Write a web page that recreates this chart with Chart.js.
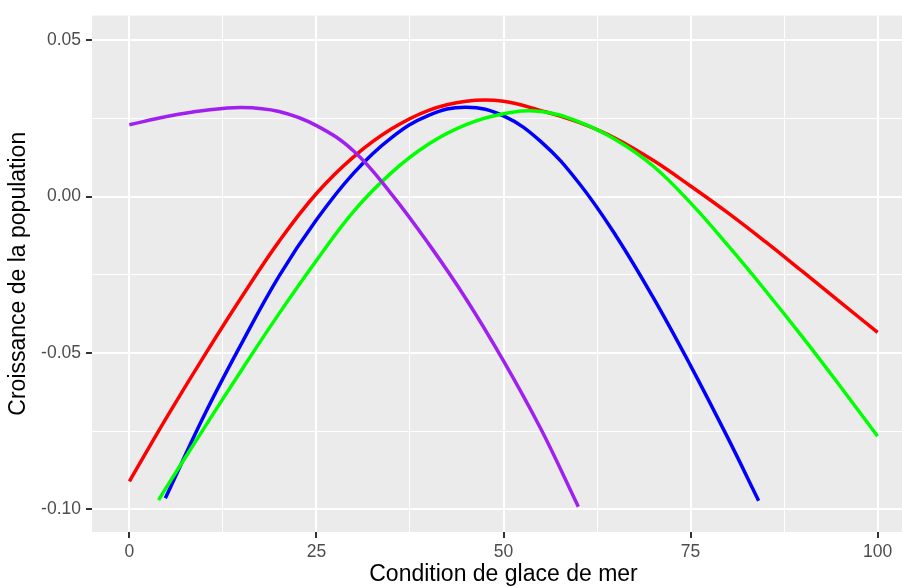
<!DOCTYPE html>
<html>
<head>
<meta charset="utf-8">
<script src="https://cdn.jsdelivr.net/npm/chart.js@4.4.1/dist/chart.umd.min.js"></script>
<style>
  html,body{margin:0;padding:0;background:#fff;overflow:hidden}
  #wrap{width:917px;height:586px}
</style>
</head>
<body>
<div id="wrap"><canvas id="chart" width="917" height="586"></canvas></div>
<script>
/* ---- data ---- */
const purpleX = [0, 5, 10, 15, 20, 25, 30, 35, 40, 45, 50, 55, 60];
const purpleY = [0.0230, 0.0256, 0.0275, 0.0285, 0.0272, 0.0227, 0.0145, 0.0009, -0.0151, -0.0327, -0.0525, -0.0743, -0.0991];

const greenX = [3.9, 5, 10, 15, 20, 25, 30, 35, 40, 45, 50, 55, 60, 65, 70, 75, 80, 85, 90, 95, 100];
const greenY = [-0.0970, -0.0927, -0.0739, -0.0554, -0.0374, -0.0204, -0.0046, 0.0076, 0.0168, 0.0230, 0.0265, 0.0272, 0.0240, 0.0182, 0.0098, -0.0020, -0.0156, -0.0300, -0.0450, -0.0606, -0.0766];

const blueX = [4.8, 10, 15, 20, 25, 30, 35, 40, 45, 50, 55, 60, 65, 70, 75, 80, 84.1];
const blueY = [-0.0964, -0.0699, -0.0469, -0.0254, -0.0074, 0.0076, 0.0188, 0.0260, 0.0286, 0.0258, 0.0176, 0.0046, -0.0124, -0.0322, -0.0540, -0.0772, -0.0972];

const redX = [0, 5, 10, 15, 20, 25, 30, 35, 40, 45, 50, 55, 60, 65, 70, 75, 80, 85, 90, 95, 100];
const redY = [-0.0910, -0.0705, -0.0509, -0.0321, -0.0143, 0.0010, 0.0128, 0.0216, 0.0276, 0.0305, 0.0305, 0.0275, 0.0238, 0.0186, 0.0116, 0.0034, -0.0052, -0.0144, -0.0240, -0.0337, -0.0434];

/* ---- axes ---- */
const xGrid = [0, 12.5, 25, 37.5, 50, 62.5, 75, 87.5, 100];
const xTickLabels = ['0', '25', '50', '75', '100'];
const yGrid = [-0.1, -0.075, -0.05, -0.025, 0, 0.025, 0.05];
const yTickLabels = ['-0.10', '-0.05', '0.00', '0.05'];

const xTitle = 'Condition de glace de mer';
const yTitle = 'Croissance de la population';

const pts = (xs, ys) => xs.map((x, i) => ({x, y: ys[i]}));
const line = (data, color) => ({data, borderColor: color, borderWidth: 3.5, pointRadius: 0, tension: 0.4, fill: false});

/* grey ggplot panel */
const panelBg = {
  id: 'panelBg',
  beforeDraw(chart){
    const {ctx, chartArea: a} = chart;
    ctx.save();
    ctx.fillStyle = '#EBEBEB';
    ctx.fillRect(a.left, a.top, a.right - a.left, a.bottom - a.top);
    ctx.restore();
  }
};

const major = c => c.index % 2 === 0;
const grid = {
  color: '#FFFFFF',
  lineWidth: c => major(c) ? 2 : 1,
  tickColor: c => major(c) ? '#333333' : 'rgba(0,0,0,0)',
  tickWidth: 2,
  tickLength: 6
};
const tickFont = {family: 'Liberation Sans', size: 17.5};
const titleFont = {family: 'Liberation Sans', size: 23, lineHeight: 1};

new Chart(document.getElementById('chart'), {
  type: 'line',
  data: {
    datasets: [
      line(pts(purpleX, purpleY), '#A020F0'),
      line(pts(greenX, greenY), '#00FF00'),
      line(pts(blueX, blueY), '#0000FF'),
      line(pts(redX, redY), '#FF0000')
    ]
  },
  options: {
    responsive: false,
    animation: false,
    layout: {padding: {top: 13, right: 2, bottom: 0, left: 0}},
    plugins: {legend: {display: false}, tooltip: {enabled: false}},
    scales: {
      x: {
        type: 'linear', min: -5, max: 105,
        afterBuildTicks: s => { s.ticks = xGrid.map(v => ({value: v})); },
        afterFit: s => { s.height = 54; },
        grid, border: {display: false},
        ticks: {autoSkip: false, maxRotation: 0, padding: 4, color: '#4D4D4D', font: tickFont,
                callback: (v, i) => i % 2 ? '' : xTickLabels[i / 2]},
        title: {display: true, text: xTitle, color: '#000000', font: titleFont, padding: {top: 0, bottom: 0}}
      },
      y: {
        type: 'linear', min: -0.1072, max: 0.0579,
        afterBuildTicks: s => { s.ticks = yGrid.map(v => ({value: v})); },
        afterFit: s => { s.width = 92; },
        grid, border: {display: false},
        ticks: {autoSkip: false, padding: 5, color: '#4D4D4D', font: tickFont,
                callback: (v, i) => i % 2 ? '' : yTickLabels[i / 2]},
        title: {display: true, text: yTitle, color: '#000000', font: titleFont, padding: {top: 7.5, bottom: 0}}
      }
    }
  },
  plugins: [panelBg]
});
</script>
</body>
</html>
